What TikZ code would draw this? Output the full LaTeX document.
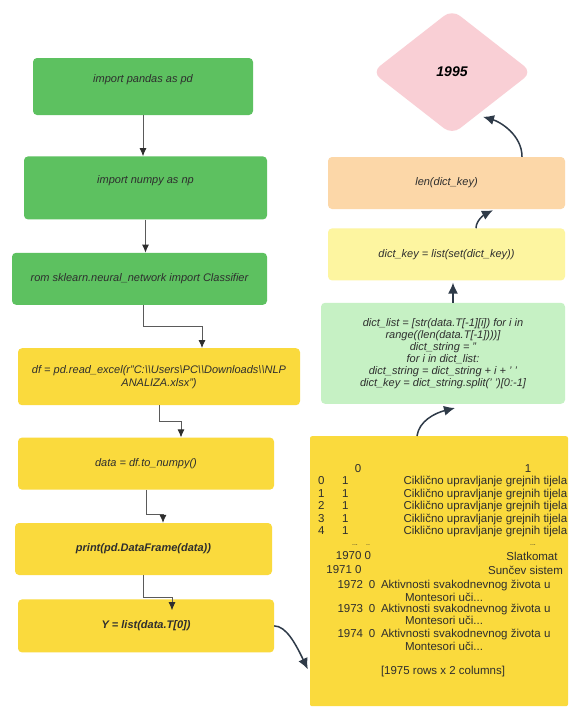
\documentclass[tikz,border=0pt]{standalone}
\usepackage{fontspec}
\setmainfont{Liberation Sans}
\usepackage{xcolor}
\usepackage{tikz}
\usetikzlibrary{shapes.geometric, arrows.meta, positioning, calc}
\definecolor{codegreen}{HTML}{5DC160}
\definecolor{codeyellow}{HTML}{FADA3D}
\definecolor{mintgreen}{HTML}{C6F1C4}
\definecolor{lemon}{HTML}{FDF5A0}
\definecolor{peach}{HTML}{FCD7A8}
\definecolor{rosepink}{HTML}{F9CFD5}
\definecolor{inkgray}{HTML}{2E2E2E}
\definecolor{linegray}{HTML}{5A5A5A}
\definecolor{darkink}{HTML}{2E3A48}
\tikzstyle{process} = [rectangle, rounded corners=4pt, minimum height=52pt, text centered, fill=codeyellow, text=inkgray, font=\itshape\fontsize{11}{13}\selectfont]
\tikzstyle{boldcode} = [font=\bfseries\itshape\fontsize{11}{13}\selectfont]
\tikzstyle{decision} = [diamond, minimum width=160pt, minimum height=125pt, inner sep=0pt, rounded corners=10pt, fill=rosepink, text=black, font=\bfseries\itshape\fontsize{14}{16}\selectfont]
\tikzstyle{frame} = [rectangle, rounded corners=2pt, fill=codeyellow, minimum width=258pt, minimum height=270pt]
\tikzstyle{cell} = [inner sep=0pt, text=inkgray, font=\fontsize{11.5}{12.5}\selectfont]
\tikzstyle{arrow} = [-{Latex[length=8pt, width=7pt, color=inkgray]}, draw=linegray, line width=0.8pt]
\tikzstyle{curve} = [-{Latex[length=11pt, width=10pt]}, draw=darkink, line width=1.5pt]
\newcommand{\ciklrow}[1]{\makebox[249pt][l]{\makebox[24pt][l]{#1}1\hfill Ciklično upravljanje grejnih tijela}}

\begin{document}
\begin{tikzpicture}[x=1pt, y=-1pt]

\fill[white] (0,0) rectangle (568,707);
\useasboundingbox (0,0) rectangle (568,707);

% Left column
\node (pandas) [process, fill=codegreen, minimum width=220pt, minimum height=57pt, text depth=15pt] at (143,86.5) {import pandas as pd};
\node (numpy) [process, fill=codegreen, minimum width=243pt, minimum height=63pt, text depth=16pt, below=41pt of pandas, xshift=2.5pt] {import numpy as np};
\node (sklearn) [process, fill=codegreen, minimum width=255pt, below=33pt of numpy, xshift=-6pt] {rom sklearn.neural\_network import Classifier};
\node (excel) [process, minimum width=282pt, minimum height=57pt, align=center, below=43pt of sklearn, xshift=19.5pt] {df = pd.read\_excel(r"C:\textbackslash\textbackslash Users\textbackslash PC\textbackslash\textbackslash Downloads\textbackslash\textbackslash NLP\\ANALIZA.xlsx")};
\node (tonumpy) [process, minimum width=256pt, below=32pt of excel, xshift=-13pt] {data = df.to\_numpy()};
\node (printdf) [process, boldcode, minimum width=257pt, below=33pt of tonumpy, xshift=-2.5pt] {print(pd.DataFrame(data))};
\node (ylist) [process, boldcode, minimum width=256pt, minimum height=53pt, below=24pt of printdf, xshift=2.5pt] {Y = list(data.T[0])};

% Right column
\node (lenkey) [process, fill=peach, minimum width=237pt] at (446.5,183) {len(dict\_key)};
\node (result) [decision, above=22pt of lenkey, xshift=5.5pt] {1995};
\node (setkey) [process, fill=lemon, minimum width=237pt, below=19pt of lenkey] {dict\_key = list(set(dict\_key))};
\node (splitkey) [process, fill=mintgreen, minimum width=244pt, minimum height=101pt, align=center, font=\itshape\fontsize{11}{12}\selectfont, below=22pt of setkey, xshift=-3.5pt] {dict\_list = [str(data.T[-1][i]) for i in\\range((len(data.T[-1])))]\\dict\_string = ''\\for i in dict\_list:\\dict\_string = dict\_string + i + ' '\\dict\_key = dict\_string.split(' ')[0:-1]};
\node (table) [frame, below=32pt of splitkey, xshift=-4pt] {};

% Printed data frame
\node (colA) [cell] at (358,469) {0};
\node (colB) [cell] at (528,469) {1};
\node (row0) [cell, anchor=west] at (318,482) {\ciklrow{0}};
\node (row1) [cell, anchor=west] at (318,494.5) {\ciklrow{1}};
\node (row2) [cell, anchor=west] at (318,507) {\ciklrow{2}};
\node (row3) [cell, anchor=west] at (318,519.5) {\ciklrow{3}};
\node (row4) [cell, anchor=west] at (318,532) {\ciklrow{4}};
\node (gapA) [cell, font=\fontsize{7}{8}\selectfont] at (355,545) {...};
\node (gapB) [cell, font=\fontsize{7}{8}\selectfont] at (368,545) {..};
\node (gapC) [cell, font=\fontsize{7}{8}\selectfont] at (533,545) {...};
\node (r1970) [cell] at (353.5,556) {1970 0};
\node (slatkomat) [cell] at (532,556) {Slatkomat};
\node (r1971) [cell] at (344,570) {1971 0};
\node (suncev) [cell] at (525.5,570) {Sunčev sistem};
\node (r1972) [cell, align=center] at (444,591) {1972\enspace 0\enspace Aktivnosti svakodnevnog života u\\Montesori uči...};
\node (r1973) [cell, align=center] at (444,614.5) {1973\enspace 0\enspace Aktivnosti svakodnevnog života u\\Montesori uči...};
\node (r1974) [cell, align=center] at (444,640) {1974\enspace 0\enspace Aktivnosti svakodnevnog života u\\Montesori uči...};
\node (rowcount) [cell] at (443,672) {[1975 rows x 2 columns]};

% Connections
\draw [arrow] (pandas.south) -- (pandas.south |- numpy.north);
\draw [arrow] (numpy.south) -- (numpy.south |- sklearn.north);
\draw [arrow] ([xshift=3.5pt]sklearn.south) -- ++(0,21) -| ([xshift=43pt]excel.north);
\draw [arrow] (excel.south) -- ++(0,16) -| ([xshift=35pt]tonumpy.north);
\draw [arrow] (tonumpy.south) -- ++(0,25) -| ([xshift=19.5pt]printdf.north);
\draw [arrow] (printdf.south) -- ++(0,22) -| ($(ylist.north)+(26,11)$);

\draw [curve] (ylist.east) .. controls +(12,0) and +(-12,-25) .. ([xshift=-2pt, yshift=-98pt]table.west);
\draw [curve] ([xshift=-22pt]table.north) .. controls +(2,-15) and +(-20,5) .. ([xshift=12pt, yshift=-4pt]splitkey.south);
\draw [curve] ([xshift=10pt]splitkey.north) -- ([xshift=10pt, yshift=-2pt]splitkey.north |- setkey.south);
\draw [curve] ([xshift=29.5pt]setkey.north) .. controls +(0,-8) and +(-8,4) .. ([xshift=46.5pt, yshift=-1pt]lenkey.south);
\draw [curve] ([xshift=75.5pt]lenkey.north) .. controls +(0,-22) and +(17,5) .. ([xshift=31pt, yshift=18pt]result.south);

\end{tikzpicture}
\end{document}
